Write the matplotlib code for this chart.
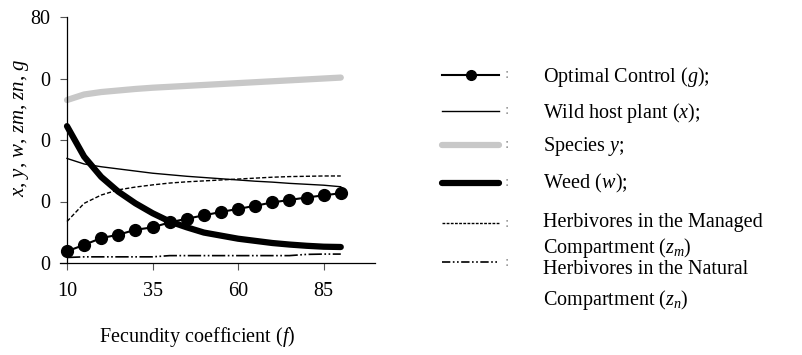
import numpy as np
import matplotlib
matplotlib.use('Agg')
import matplotlib.pyplot as plt
from matplotlib.lines import Line2D

plt.rcParams['font.family'] = ['Liberation Serif', 'DejaVu Serif']
plt.rcParams['mathtext.fontset'] = 'custom'
plt.rcParams['mathtext.rm'] = 'Liberation Serif'
plt.rcParams['mathtext.it'] = 'Liberation Serif:italic'

# fecundity coefficient f
f = [10, 15, 20, 25, 30, 35, 40, 45, 50, 55, 60, 65, 70, 75, 80, 85, 90]

g_ctrl = [3.8, 5.9, 8.1, 9.2, 10.8, 11.6, 13.2, 14.4, 15.5, 16.6, 17.6, 18.6, 19.7, 20.5, 21.3, 22.0, 22.7]
x_wild = [34.0, 32.2, 31.3, 30.6, 29.9, 29.2, 28.7, 28.2, 27.8, 27.4, 27.0, 26.6, 26.3, 25.9, 25.6, 25.3, 24.8]
y_spec = [53.0, 54.8, 55.6, 56.1, 56.6, 57.0, 57.3, 57.6, 57.9, 58.2, 58.5, 58.8, 59.1, 59.4, 59.7, 60.0, 60.3]
w_weed = [44.5, 34.6, 28.0, 23.2, 19.4, 16.2, 13.5, 11.6, 9.9, 8.9, 7.9, 7.2, 6.5, 6.0, 5.6, 5.3, 5.2]
zm = [13.5, 19.4, 22.1, 23.8, 24.7, 25.4, 26.0, 26.4, 26.7, 27.0, 27.3, 27.6, 27.9, 28.1, 28.2, 28.3, 28.3]
zn = [1.8, 2.0, 2.0, 2.0, 2.0, 2.0, 2.4, 2.4, 2.4, 2.4, 2.4, 2.4, 2.4, 2.4, 2.8, 2.9, 2.9]

yticks = [0, 20, 40, 60, 80]
ytick_labels = ['0', '0', '0', '0', '80']
xticks = [10, 35, 60, 85]

fig = plt.figure(figsize=(8.03, 3.55), dpi=100)
ax = fig.add_axes([67 / 803, 92 / 355, 308 / 803, 246 / 355])

ax.plot(f, y_spec, color='#c8c8c8', lw=4.5, solid_capstyle='round')
ax.plot(f, x_wild, color='black', lw=1.0)
ax.plot(f, zm, color='black', lw=1.0, dashes=(3, 1.5))
ax.plot(f, zn, color='black', lw=1.2, dashes=(8, 1.5, 1, 1.5, 1, 1.5))
ax.plot(f, w_weed, color='black', lw=4.5, solid_capstyle='round')
ax.plot(f, g_ctrl, color='black', lw=1.5, marker='o', ms=8.5)

ax.set_xlim(10, 100)
ax.set_ylim(0, 80)
ax.spines['top'].set_visible(False)
ax.spines['right'].set_visible(False)
ax.spines['left'].set_linewidth(0.9)
ax.spines['bottom'].set_linewidth(0.9)
ax.spines['bottom'].set_bounds(8, 100)
ax.set_yticks(yticks)
ax.set_yticklabels(ytick_labels)
ax.set_xticks(xticks)
ax.tick_params(axis='both', labelsize=14.5, length=5, width=0.8, color='#555555')
ax.tick_params(axis='y', pad=7)
ax.tick_params(axis='x', pad=9)
for ln in ax.lines:
    ln.set_clip_on(False)

fig.text(22 / 803, 1 - 128 / 355, r'$x$, $y$, $w$, $zm$, $zn$, $g$', rotation=90,
         ha='center', va='center', fontsize=15)
fig.text(197 / 803, 1 - 337 / 355, r'Fecundity coefficient ($f$)', ha='center', va='center',
         fontsize=14.5)

# legend drawn by hand: handle, dotted colon, label lines
rows = [
    (75, dict(color='black', lw=1.5, marker='o', ms=7, markevery=[1]),
     [('Optimal Control ($g$);', 77)]),
    (111, dict(color='black', lw=1.0), [('Wild host plant ($x$);', 113)]),
    (145, dict(color='#c8c8c8', lw=4.5, solid_capstyle='round'), [('Species $y$;', 147)]),
    (183, dict(color='black', lw=4.5, solid_capstyle='round'), [('Weed ($w$);', 183)]),
    (223, dict(color='black', lw=1.0, dashes=(2, 1)),
     [('Herbivores in the Managed', 222), ('Compartment ($z_m$)', 248)]),
    (262, dict(color='black', lw=1.2, dashes=(5, 1.5, 1, 1.5, 1, 1.5)),
     [('Herbivores in the Natural', 270), ('Compartment ($z_n$)', 300)]),
]
for yy, style, labels in rows:
    yf = 1 - yy / 355
    fig.add_artist(Line2D([442 / 803, 471 / 803, 499 / 803], [yf, yf, yf],
                          transform=fig.transFigure, **style))
    fig.text(507 / 803, yf, ':', ha='center', va='center', fontsize=11, color='#888888')
    for label, ty in labels:
        fig.text(543 / 803, 1 - ty / 355, label, ha='left', va='center', fontsize=14.5)

fig.savefig('out.png', dpi=100)
